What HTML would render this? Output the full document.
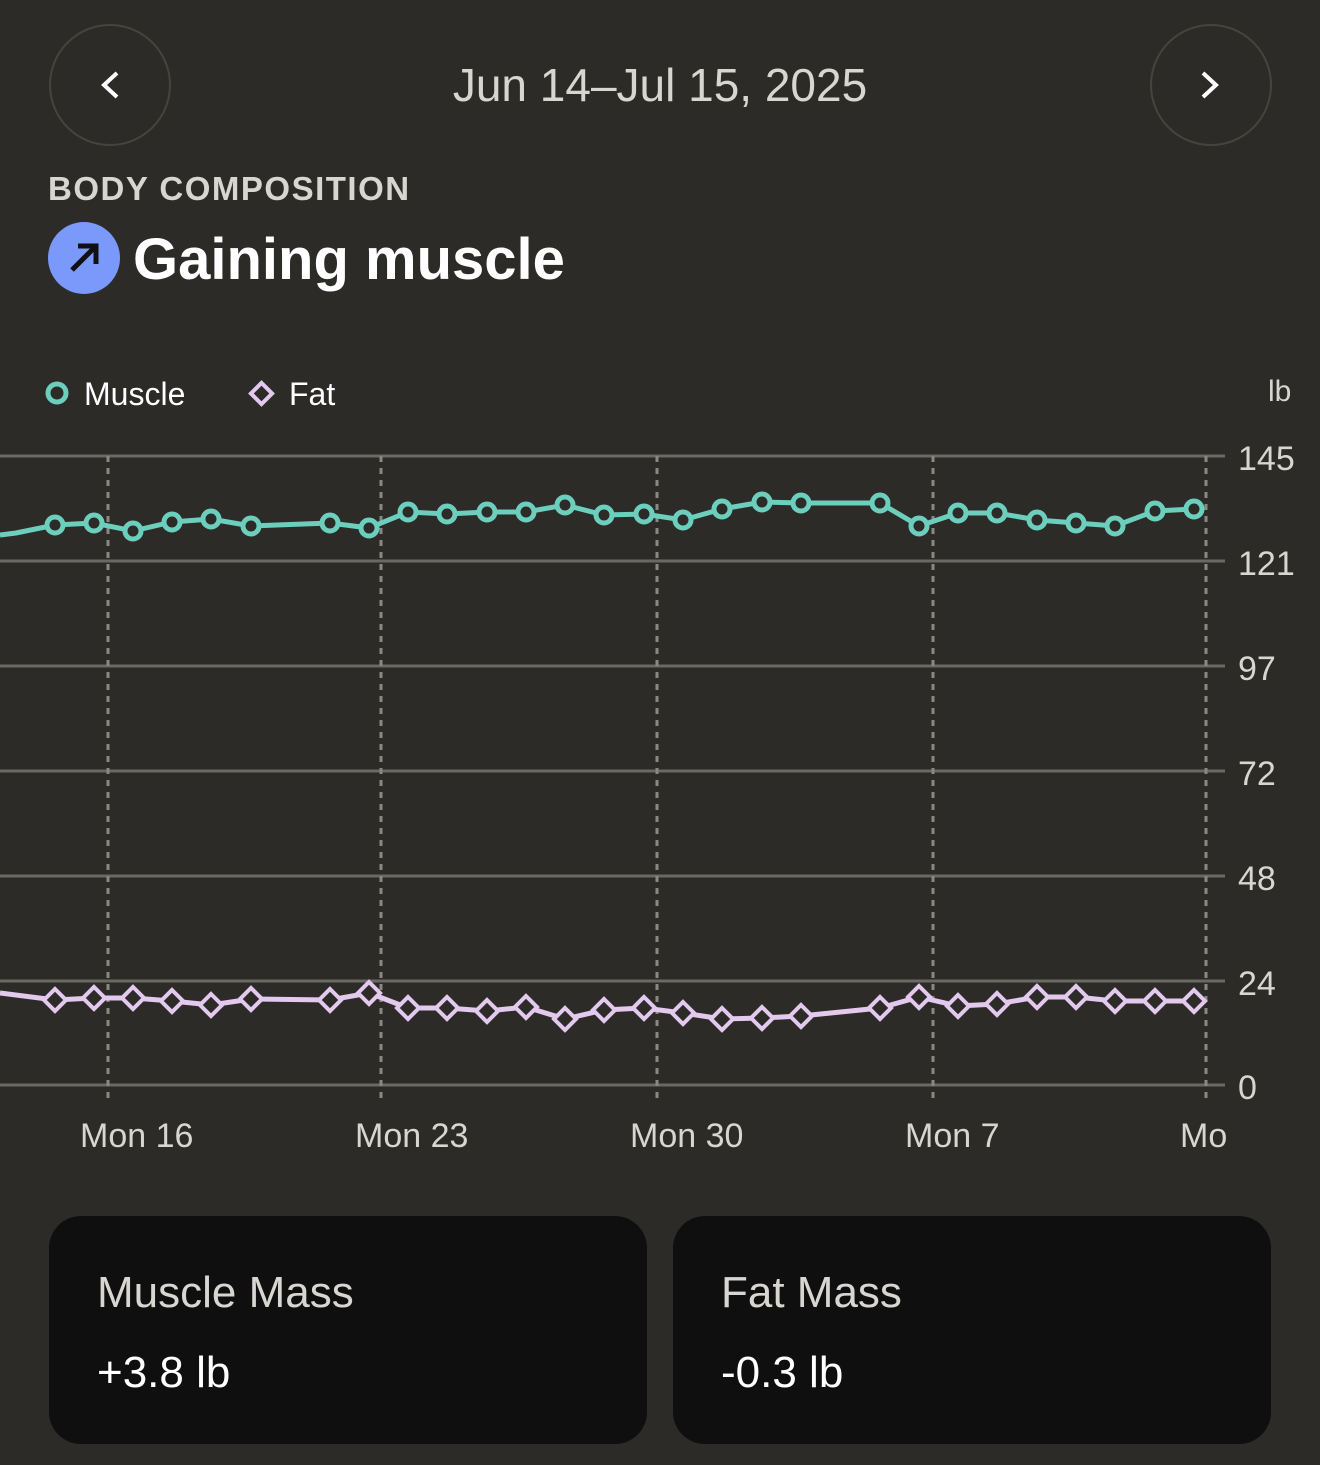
<!DOCTYPE html>
<html><head><style>
body{margin:0;width:1320px;height:1465px;background:#2c2b28;font-family:"Liberation Sans",sans-serif;color:#e8e6e1;position:relative;overflow:hidden}
.circ{position:absolute;width:118px;height:118px;border:2px solid #46443f;border-radius:50%;top:24px}
.card{position:absolute;top:1216px;width:598px;height:228px;background:#0f0f0f;border-radius:32px}
.card .t{position:absolute;left:48px;top:52px;font-size:44px;color:#d8d6d1}
.card .v{position:absolute;left:48px;top:132px;font-size:44px;color:#fff}
</style></head><body>
<div class="circ" style="left:49px"></div>
<div class="circ" style="left:1150px"></div>
<svg style="position:absolute;left:0;top:0" width="1320" height="300">
<path d="M117 73 L104 85 L117 97" stroke="#fff" stroke-width="4" fill="none"/>
<path d="M1203 73 L1216 85 L1203 97" stroke="#fff" stroke-width="4" fill="none"/>
<circle cx="84" cy="258" r="36" fill="#7b98fb"/>
<path d="M72 270 L96 246 M78 246 L96 246 L96 264" stroke="#111" stroke-width="5" fill="none"/>
</svg>
<div style="position:absolute;left:0;width:1320px;top:58px;text-align:center;font-size:46px;color:#d8d6d1">Jun 14–Jul 15, 2025</div>
<div style="position:absolute;left:48px;top:170px;font-size:33px;font-weight:bold;letter-spacing:1.5px;color:#d8d6d1">BODY COMPOSITION</div>
<div style="position:absolute;left:133px;top:226px;font-size:58px;font-weight:bold;color:#fff">Gaining muscle</div>
<svg style="position:absolute;left:0;top:0" width="1320" height="1200" font-family="Liberation Sans, sans-serif">
<circle cx="57" cy="393" r="9" fill="none" stroke="#6ccfbd" stroke-width="5"/>
<text x="84" y="405" font-size="32" fill="#fff">Muscle</text>
<rect x="254" y="386" width="15" height="15" transform="rotate(45 261.5 393.5)" fill="none" stroke="#e3c9ee" stroke-width="4"/>
<text x="289" y="405" font-size="32" fill="#fff">Fat</text>
<text x="1268" y="401" font-size="30" fill="#d8d6d1">lb</text>
<g stroke="#6b6964" stroke-width="3">
<line x1="0" y1="456" x2="1225" y2="456"/><line x1="0" y1="561" x2="1225" y2="561"/><line x1="0" y1="666" x2="1225" y2="666"/><line x1="0" y1="771" x2="1225" y2="771"/><line x1="0" y1="876" x2="1225" y2="876"/><line x1="0" y1="981" x2="1225" y2="981"/><line x1="0" y1="1085" x2="1225" y2="1085"/>
</g>
<g stroke="#8a8882" stroke-width="3" stroke-dasharray="6 6">
<line x1="108" y1="456" x2="108" y2="1100"/><line x1="381" y1="456" x2="381" y2="1100"/><line x1="657" y1="456" x2="657" y2="1100"/><line x1="933" y1="456" x2="933" y2="1100"/><line x1="1206" y1="456" x2="1206" y2="1100"/>
</g>
<g font-size="34" fill="#d8d6d1">
<text x="1238" y="470">145</text><text x="1238" y="575">121</text><text x="1238" y="680">97</text><text x="1238" y="785">72</text><text x="1238" y="890">48</text><text x="1238" y="995">24</text><text x="1238" y="1099">0</text>
<text x="80" y="1147">Mon 16</text><text x="355" y="1147">Mon 23</text><text x="630" y="1147">Mon 30</text><text x="905" y="1147">Mon 7</text>
</g>
<svg x="1170" y="1100" width="57" height="60" overflow="hidden"><text x="10" y="47" font-size="34" fill="#d8d6d1">Mon</text></svg>
<polyline fill="none" stroke="#6ccfbd" stroke-width="5" points="0,535 16,533 55,525 94,523 133,531 172,522 211,519 251,526 330,523 369,528 408,512 447,514 487,512 526,512 565,505 604,515 644,514 683,520 722,509 762,502 801,503 880,503 919,526 958,513 997,513 1037,520 1076,523 1115,526 1155,511 1194,509"/>
<g fill="#2c2b28" stroke="#6ccfbd" stroke-width="5" id="m"></g>
<polyline fill="none" stroke="#e3c9ee" stroke-width="5" points="0,993 55,1000 94,998 133,998 172,1001 211,1005 251,999 330,1000 369,993 408,1008 447,1008 487,1011 526,1007 565,1019 604,1010 644,1008 683,1013 722,1019 762,1018 801,1016 880,1008 919,997 958,1006 997,1004 1037,997 1076,997 1115,1001 1155,1001 1194,1001"/>
<g fill="#2c2b28" stroke="#e3c9ee" stroke-width="4" id="f"></g>
</svg>
<script>
var xs=[55,94,133,172,211,251,330,369,408,447,487,526,565,604,644,683,722,762,801,880,919,958,997,1037,1076,1115,1155,1194];
var my=[525,523,531,522,519,526,523,528,512,514,512,512,505,515,514,520,509,502,503,503,526,513,513,520,523,526,511,509];
var fy=[1000,998,998,1001,1005,999,1000,993,1008,1008,1011,1007,1019,1010,1008,1013,1019,1018,1016,1008,997,1006,1004,997,997,1001,1001,1001];
var ns="http://www.w3.org/2000/svg",m=document.getElementById('m'),f=document.getElementById('f');
xs.forEach(function(x,i){var c=document.createElementNS(ns,'circle');c.setAttribute('cx',x);c.setAttribute('cy',my[i]);c.setAttribute('r',8);m.appendChild(c);
var p=document.createElementNS(ns,'polygon');var y=fy[i];p.setAttribute('points',x+','+(y-11)+' '+(x+11)+','+y+' '+x+','+(y+11)+' '+(x-11)+','+y);f.appendChild(p);});
</script>
<div class="card" style="left:49px"><div class="t">Muscle Mass</div><div class="v">+3.8 lb</div></div>
<div class="card" style="left:673px"><div class="t">Fat Mass</div><div class="v">-0.3 lb</div></div>
</body></html>
